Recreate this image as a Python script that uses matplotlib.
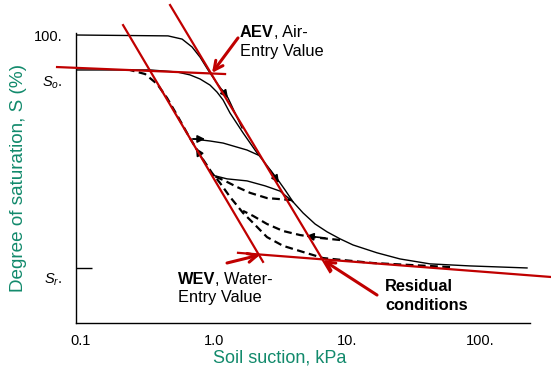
import matplotlib
matplotlib.use("Agg")
import matplotlib.pyplot as plt

plt.rcParams['font.family'] = ['Liberation Sans', 'DejaVu Sans']
plt.rcParams['mathtext.fontset'] = 'custom'
plt.rcParams['mathtext.rm'] = 'Liberation Sans'
plt.rcParams['mathtext.it'] = 'Liberation Sans:italic'

# ---- axis labels / ticks
x_ticks = [0.1, 1, 10, 100]
x_ticklabels = ['0.1', '1.0', '10.', '100.']
y_labelpos = [100, 84.5, 16.6]
y_ticklabels = ['100.', '$S_o$.', '$S_r$.']
S_r = 20

# ---- curves: suction (kPa), degree of saturation (%)
# initial drying curve from 100 %
dry0_x = [0.0933, 0.451, 0.575, 0.683, 0.785, 0.901, 1.035, 1.149, 1.274, 1.463, 1.624]
dry0_y = [100.0, 99.7, 98.6, 95.9, 92.4, 88.0, 83.9, 81.1, 78.4, 72.5, 68.1]
# main drying curve from So
dry_x = [0.0933, 0.330, 0.527, 0.660, 0.785, 0.933, 1.053, 1.169, 1.319, 1.652, 2.105,
         2.547, 3.028, 3.419, 3.926, 4.67, 5.75, 7.079, 8.857, 11.09, 16.81, 25.0,
         42.1, 84.1, 225.6]
dry_y = [88.0, 88.0, 87.3, 86.3, 84.9, 82.8, 80.4, 77.7, 73.2, 66.4, 59.5,
         54.7, 50.2, 46.8, 42.7, 38.9, 35.1, 32.4, 30.0, 27.9, 25.2, 23.1,
         21.4, 20.7, 20.0]
# main wetting curve (dashed)
wet_x = [59.5, 15.68, 6.601, 4.433, 3.303, 2.502, 1.964, 1.652, 1.319, 1.109, 0.966,
         0.785, 0.638, 0.527, 0.443, 0.373, 0.303, 0.233]
wet_y = [20.3, 21.7, 23.4, 25.8, 27.6, 30.6, 35.5, 38.9, 44.4, 49.2, 52.6,
         58.8, 65.7, 72.5, 78.4, 83.2, 86.6, 88.0]
# scanning curves
scan_wet1_x = [8.857, 6.27, 4.433, 3.303, 2.502, 1.964, 1.652]
scan_wet1_y = [29.6, 30.3, 31.3, 32.7, 35.1, 37.9, 39.6]
scan_dry1_x = [0.966, 1.252, 1.771, 2.418, 3.135, 3.926]
scan_dry1_y = [51.9, 50.6, 49.9, 48.2, 46.4, 42.7]
scan_wet2_x = [3.857, 2.502, 1.865, 1.489, 1.210, 1.0]
scan_wet2_y = [43.3, 44.0, 45.8, 47.8, 49.9, 51.6]
scan_dry2_x = [0.695, 0.933, 1.169, 1.489, 1.771, 2.142]
scan_dry2_y = [64.3, 63.6, 62.9, 61.5, 60.5, 58.8]

# direction arrows on curves: (tail, head)
curve_arrows = [((1.149, 81.1), (1.274, 78.4)),
                ((2.637, 53.6), (3.08, 49.2)),
                ((0.695, 64.3), (0.856, 64.3)),
                ((0.827, 57.1), (0.732, 61.2)),
                ((6.83, 30.3), (4.92, 31.0))]

# red construction lines
so_line = ([0.066, 1.210], [89.0, 86.6])
aev_line = ([0.467, 7.447], [110.3, 18.6])
wev_line = ([0.207, 2.335], [103.4, 22.1])
res_line = ([1.514, 342], [25.2, 16.9])
red_arrows = [((1.514, 99.0), (0.966, 87.0)),
              ((1.252, 21.7), (2.218, 24.5)),
              ((16.81, 10.7), (6.601, 22.7))]

red = '#C00000'
green = '#128A6C'

fig = plt.figure(figsize=(5.51, 3.71), dpi=100)
ax = fig.add_axes([0.1379, 0.1294, 0.8240, 0.7817])
ax.set_xscale('log')
ax.set_xlim(0.0916, 237.6)
ax.set_ylim(1.1, 100.7)

# black curves
ax.plot(dry0_x, dry0_y, color='black', lw=1.0)
ax.plot(dry_x, dry_y, color='black', lw=1.0)
ax.plot(scan_dry1_x, scan_dry1_y, color='black', lw=1.0)
ax.plot(scan_dry2_x, scan_dry2_y, color='black', lw=1.0)
dash = (0, (3.5, 2))
ax.plot(wet_x, wet_y, color='black', lw=1.6, linestyle=dash)
ax.plot(scan_wet1_x, scan_wet1_y, color='black', lw=1.6, linestyle=dash)
ax.plot(scan_wet2_x, scan_wet2_y, color='black', lw=1.6, linestyle=dash)

for tail, head in curve_arrows:
    ax.annotate('', xy=head, xytext=tail,
                arrowprops=dict(arrowstyle='-|>', color='black', lw=1.2,
                                mutation_scale=11, shrinkA=0, shrinkB=0))

# red lines
for xs, ys in [so_line, aev_line, wev_line, res_line]:
    ax.plot(xs, ys, color=red, lw=1.6, clip_on=False, zorder=3)
for tail, head in red_arrows:
    ax.annotate('', xy=head, xytext=tail,
                arrowprops=dict(arrowstyle='->', color=red, lw=2.2,
                                mutation_scale=16, shrinkA=0, shrinkB=0),
                zorder=4)

# annotations
fs = 11.8
t = ax.text(1.568, 101.0, 'AEV', fontsize=fs, fontweight='bold', ha='left', va='center')
ax.annotate(', Air-', xy=(1, 0.5), xycoords=t, fontsize=fs, ha='left', va='center')
ax.text(1.568, 94.5, 'Entry Value', fontsize=fs, ha='left', va='center')
t = ax.text(0.536, 16.2, 'WEV', fontsize=fs, fontweight='bold', ha='left', va='center')
ax.annotate(', Water-', xy=(1, 0.5), xycoords=t, fontsize=fs, ha='left', va='center')
ax.text(0.536, 9.7, 'Entry Value', fontsize=fs, ha='left', va='center')
ax.text(19.3, 13.5, 'Residual', fontsize=fs, fontweight='bold', ha='left', va='center')
ax.text(19.3, 7.0, 'conditions', fontsize=fs, fontweight='bold', ha='left', va='center')

# axes styling
for s in ['top', 'right']:
    ax.spines[s].set_visible(False)
for s in ['left', 'bottom']:
    ax.spines[s].set_linewidth(1.0)

ax.set_xticks(x_ticks)
ax.set_xticklabels(x_ticklabels)
ax.set_xticks([1, 10, 100], minor=True)
ax.tick_params(axis='x', which='major', length=0, pad=8, labelsize=10.5)
ax.tick_params(axis='x', which='minor', length=8, direction='in', width=1.0)

ax.set_yticks(y_labelpos)
ax.set_yticklabels(y_ticklabels)
ax.set_yticks([S_r], minor=True)
ax.tick_params(axis='y', which='major', length=0, pad=10, labelsize=10.5)
ax.tick_params(axis='y', which='minor', length=11.5, direction='in', width=1.0)

ax.set_xlabel('Soil suction, kPa', color=green, fontsize=13)
ax.xaxis.label.set_va('center')
ax.xaxis.set_label_coords(0.449, -0.12)
ax.set_ylabel('Degree of saturation, S (%)', color=green, fontsize=13.6)
ax.yaxis.label.set_va('center')
ax.yaxis.set_label_coords(-0.1256, 0.5)

fig.savefig('out.png', dpi=100)
